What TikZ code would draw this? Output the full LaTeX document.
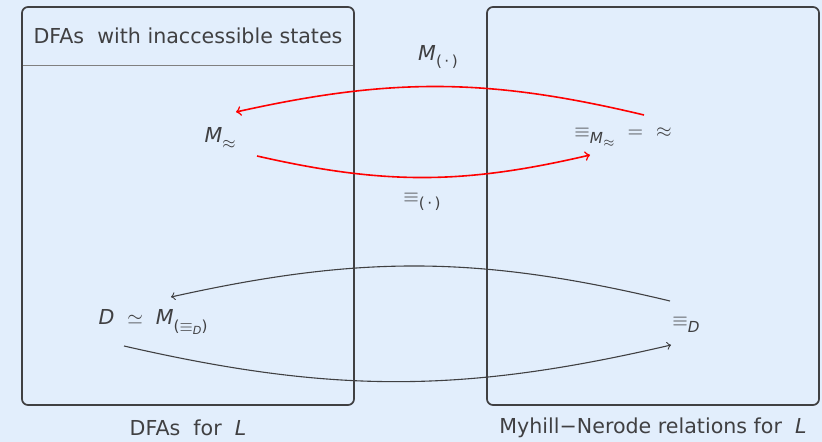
\documentclass[tikz,border=0pt]{standalone}
\usepackage{fontspec}
\setmainfont{DejaVu Sans}
\definecolor{bgblue}{RGB}{226,238,252}
\definecolor{ink}{RGB}{64,64,66}
\newcommand\lowsub[1]{\raisebox{-0.55ex}{\fontsize{7.6}{9}\selectfont #1}}
\newcommand\tinysub[1]{\raisebox{-0.35ex}{\fontsize{5.6}{6}\selectfont #1}}

\begin{document}
\begin{tikzpicture}[x=0.5pt, y=0.5pt, >=to,
  every node/.style={font=\fontsize{10.3}{12}\selectfont, text=ink},
  region/.style={draw=ink, line width=0.85pt, rounded corners=3pt},
  redmap/.style={->, red, line width=0.8pt},
  blackmap/.style={->, ink, line width=0.55pt}]
\fill[bgblue] (0,0) rectangle (822,-442);
\useasboundingbox (0,0) rectangle (822,-442);
% the two regions
\draw[region] (22,-7) rectangle (354,-405);
\draw[region] (487,-7) rectangle (819,-405);
\draw[gray, line width=0.5pt] (23,-66) -- (353,-66);
\node (title) at (188,-36) {DFAs~ with inaccessible states};
\node (capL) at (188,-428) {DFAs~ for~ \textit{L}};
\node (capR) at (653,-428) {Myhill−Nerode relations for~ \textit{L}};
% objects
\node (mA) at (220,-138) {\textit{M}\lowsub{$\approx$}};
\node (eqM) at (623,-137) {$\equiv$\lowsub{\textit{M}\tinysub{$\approx$}}\hspace{6.5pt}$=$\hspace{6.5pt}$\approx$};
\node (dfa) at (153,-322) {\textit{D}\hspace{6.5pt}$\simeq$\hspace{6.5pt}\textit{M}\lowsub{($\equiv$\tinysub{\textit{D}})}};
\node (eqD) at (686,-325) {$\equiv$\lowsub{\textit{D}}};
\node (lblM) at (438,-57) {\textit{M}\lowsub{(\,·\,)}};
\node (lblEq) at (422,-202) {$\equiv$\lowsub{(\,·\,)}};
% maps
\draw[redmap] ([shift={(21,22)}]eqM.center) to[bend right=13] ([shift={(16,26)}]mA.center);
\draw[redmap] ([shift={(37,-18)}]mA.center) to[bend right=13] ([shift={(-33,-18)}]eqM.center);
\draw[blackmap] ([shift={(-16,24)}]eqD.center) to[bend right=13] ([shift={(18,25)}]dfa.center);
\draw[blackmap] ([shift={(-29,-24)}]dfa.center) to[bend right=13] ([shift={(-15,-20)}]eqD.center);
\end{tikzpicture}
\end{document}
